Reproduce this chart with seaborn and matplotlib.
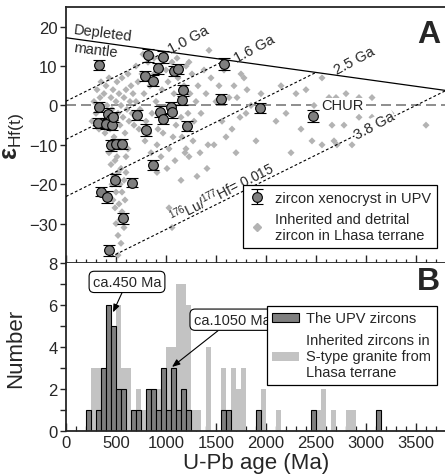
import numpy as np
import pandas as pd
import matplotlib
matplotlib.use("Agg")
import matplotlib.pyplot as plt
import seaborn as sns
from matplotlib.lines import Line2D
from matplotlib.patches import Patch
from matplotlib.ticker import MultipleLocator, FixedLocator

# ---------------- data ----------------
upv_age = [330, 815, 966, 917, 790, 866, 1083, 1116, 1166, 1160, 1050, 1063, 943, 973, 1206,
           706, 800, 333, 423, 450, 323, 403, 463, 470, 1583, 1553, 1943, 2473, 453, 503, 563,
           873, 493, 663, 353, 413, 573, 433]
upv_eps = [10.3, 12.7, 12.3, 9.4, 7.4, 6.3, 8.7, 9.2, 3.8, 1.5, -0.5, -1.6, -1.6, -3.4, -5.2,
           -2.4, -6.3, -0.4, -2.1, -3.4, -4.4, -4.7, -5.0, -3.0, 10.5, 1.7, -0.6, -2.7, -10.1, -9.8, -9.8,
           -15.2, -19.0, -19.6, -21.9, -23.2, -28.7, -36.8]
upv_err = [1.2, 1.6, 1.5, 1.4, 1.3, 1.4, 1.3, 1.3, 1.4, 1.5, 1.3, 1.6, 1.4, 1.3, 1.2,
           1.3, 1.5, 1.2, 1.4, 1.3, 1.2, 1.4, 1.3, 1.3, 1.6, 1.3, 1.3, 1.5, 1.4, 1.3, 1.3,
           1.3, 1.5, 1.2, 1.2, 1.6, 1.3, 1.4]

lhasa_age = [260, 280, 300, 310, 330, 340, 350, 360, 370, 380, 390, 400, 410, 420, 430, 440, 450, 460,
             470, 480, 490, 500, 510, 520, 530, 540, 550, 560, 570, 580, 590, 600, 610, 620, 630, 640,
             650, 660, 670, 680,
             430, 450, 470, 480, 490, 500, 510, 520, 530, 540, 550, 560, 470, 500, 520, 540, 560, 580,
             590, 600, 520, 580, 460, 600, 620, 490, 550,
             700, 720, 740, 760, 780, 800, 820, 840, 860, 880, 900, 920, 940, 960, 980, 1000, 1020,
             1040, 1060, 1080, 1100, 1120, 1140, 1160, 1180, 1200, 1220, 1240, 1260, 1280, 1300, 730,
             790, 850, 910, 970, 1030, 1090, 1150, 1210, 1270, 770, 880, 990, 1110, 1230, 700, 830,
             950, 1070, 1190,
             1030, 1060, 910, 1010, 1200, 1230, 1150,
             1320, 1350, 1380, 1400, 1410, 1420, 1430, 1450, 1480, 1500, 1530, 1560, 1580, 1610, 1630,
             1660, 1680, 1710, 1740, 1780, 1800, 1810, 1850, 1900, 1950, 1310, 1340, 1600, 1700, 1750,
             2100, 2150, 2250, 2300, 2350, 2460, 2480, 2560, 2560, 2630, 2660, 2680, 2700, 2710, 2780,
             2800, 2860, 2930, 2930, 3060, 3060, 3250, 3600, 2200, 2400]
lhasa_eps = [-4, 1, -2, 4, -6, 2, 6, -1, -4, 3, -7, 5, 0, -3, 7, -6, 2, -1,
             4, -8, -4, 1, 6, -2, 3, -5, 0, 7, -3, 2, -7, 4, -1, 8, -4, 1,
             5, -2, 3, -5,
             -12, -15, -11, -18, -14, -22, -13, -17, -25, -20, -16, -27, -24, -30, -33, -29, -22, -19,
             -24, -13, -38, -31, -20, -17, -11, -26, -35,
             10, 6, -1, 8, 3, -4, 11, 5, -2, 8, 1, -6, 12, 4, -3, 9, 6,
             -1, 11, 3, -5, 7, 1, -8, 5, 10, -2, 3, 8, -4, 1, -6,
             -9, -12, -10, -7, -11, -14, -3, -6, -9, 13, 12, 13, 12, 11, 1, -7,
             -13, -8, -12,
             -26, -31, -17, -16, -11, -13, -19,
             5, -2, 9, 3, -16, -10, 14, 7, -10, 1, 5, -4, 9, 10, 2,
             -6, 5, 2, -3, 7, -2, 4, 0, -9, 3, -18, -12, -8, -12, 8,
             -4, 5, -12, 3, -6, -9, 0, 7, -10, 2, -5, -9, 2, -10, -5,
             3, -10, 2, -3, 2, -3, -2, -5, -2, 4]

dm_age = [0, 3800]
dm_eps = [17.2, 3.8]
model_ages = [1000, 1600, 2500, 3800]
model_end = [0, 0, 0, 450]
model_labels = ["1.0 Ga", "1.6 Ga", "2.5 Ga", "3.8 Ga"]
crust_slope = 12.6  # epsilon units per Ga for 176Lu/177Hf = 0.015
eps_ticks = [-30, -20, -10, 0, 10, 20]

upv_bins = [200, 300, 350, 400, 450, 500, 550, 650, 700, 800, 850, 900, 950, 1000, 1050, 1100,
            1150, 1200, 1550, 1600, 1900, 2450, 3100]
upv_counts = [1, 1, 3, 6, 5, 2, 2, 1, 1, 2, 2, 1, 3, 1, 3, 1, 2, 1, 1, 1, 1, 1, 1]
lhasa_bins = [250, 300, 350, 400, 450, 500, 550, 600, 650, 700, 750, 800, 850, 900, 950, 1000,
              1050, 1100, 1150, 1200, 1250, 1300, 1400, 1550, 1650, 1700, 1750, 1950, 2100, 2500,
              2550, 2650, 2800, 2850]
lhasa_counts = [3, 3, 3, 3, 5, 6, 3, 3, 1, 2, 1, 2, 2, 2, 3, 4, 4, 7, 7, 6, 1, 1, 4, 3, 3, 2, 3,
                2, 1, 1, 2, 1, 1, 1]
bin_width = 50

# ---------------- style ----------------
sns.set_theme(style="ticks")
plt.rcParams["font.family"] = ["Liberation Sans", "DejaVu Sans"]
plt.rcParams["mathtext.fontset"] = "custom"
plt.rcParams["mathtext.rm"] = "Liberation Sans"
plt.rcParams["mathtext.it"] = "Liberation Sans:italic"
plt.rcParams["mathtext.bf"] = "Liberation Sans:bold"

W, H = 445, 477
fig = plt.figure(figsize=(W / 100, H / 100), dpi=100)
left = 66 / W
width = 380 / W
axA = fig.add_axes([left, 1 - 264 / H, width, 256 / H])
axB = fig.add_axes([left, 1 - 432 / H, width, 168 / H])

dark = "#7f7f7f"
light = "#c3c3c3"
diam = "#b3b3b3"

# ---------------- panel A ----------------
ax = axA
ax.set_xlim(0, 3800)
ax.set_ylim(-40, 25)

sns.scatterplot(x=lhasa_age, y=lhasa_eps, marker="D", s=13, color=diam, edgecolor="none",
                ax=ax, zorder=2, legend=False)

# CHUR
ax.axhline(0, color="#7a7a7a", lw=1.2, dashes=(6, 3), zorder=1)
ax.text(2760, 0, "CHUR", ha="center", va="center", fontsize=10.5,
        bbox=dict(fc="white", ec="none", pad=0.5), zorder=3)

# depleted mantle
sns.lineplot(x=dm_age, y=dm_eps, color="black", lw=0.9, ax=ax, zorder=3)
dm_slope = (dm_eps[1] - dm_eps[0]) / (dm_age[1] - dm_age[0])
for T, t_end in zip(model_ages, model_end):
    e_T = dm_eps[0] + dm_slope * T
    e_end = e_T - crust_slope * (T - t_end) / 1000
    ax.plot([t_end, T], [e_end, e_T], color="black", lw=0.8, ls=(0, (2.5, 2)), zorder=3)

ax.text(1230, 16.8, "1.0 Ga", rotation=28, ha="center", va="center", fontsize=10.5, zorder=4)
ax.text(1880, 14.6, "1.6 Ga", rotation=28, ha="center", va="center", fontsize=10.5, zorder=4)
ax.text(2880, 11.6, "2.5 Ga", rotation=28, ha="center", va="center", fontsize=10.5, zorder=4)
ax.text(3080, -5.0, "3.8 Ga", rotation=28, ha="center", va="center", fontsize=10.5,
        bbox=dict(fc="white", ec="none", pad=0.3), zorder=4)
ax.text(1560, -21.8, "$^{176}$Lu/$^{177}$Hf= 0.015", rotation=27, ha="center", va="center",
        fontsize=10, zorder=4)
ax.text(70, 18.6, "Depleted", rotation=-7, ha="left", va="center", fontsize=10.5, zorder=4)
ax.text(70, 14.2, "mantle", rotation=-7, ha="left", va="center", fontsize=10.5, zorder=4)

eb = ax.errorbar(upv_age, upv_eps, yerr=upv_err, fmt="o", ms=7, mfc=dark, mec="black", mew=0.8,
                 ecolor="black", elinewidth=0.9, capsize=4, capthick=0.9, zorder=5)

ax.text(0.985, 0.955, "A", transform=ax.transAxes, ha="right", va="top", fontsize=23,
        fontweight="bold")

ax.yaxis.set_major_locator(FixedLocator(eps_ticks))
ax.xaxis.set_major_locator(MultipleLocator(500))
ax.xaxis.set_minor_locator(MultipleLocator(100))
ax.tick_params(axis="x", which="major", direction="inout", length=11, width=1, labelbottom=False)
ax.tick_params(axis="x", which="minor", direction="inout", length=6, width=0.9)
ax.tick_params(axis="y", which="major", direction="out", length=4, width=1, labelsize=12, pad=2)
for s in ["left", "bottom", "top"]:
    ax.spines[s].set_linewidth(1.3)
ax.spines["right"].set_visible(False)
ax.set_ylabel("ε$_{\\mathrm{Hf(t)}}$", fontsize=18, fontweight="bold", labelpad=2)

diam_handle = Line2D([], [], marker="D", ls="none", color=diam, ms=4)
legA = ax.legend([eb, diam_handle],
                 ["zircon xenocryst in UPV", "Inherited and detrital\nzircon in Lhasa terrane"],
                 loc="lower right", bbox_to_anchor=(0.995, 0.03), fontsize=10.5, frameon=True,
                 fancybox=False, edgecolor="black", framealpha=1, handlelength=1.2,
                 handletextpad=0.6, borderpad=0.4, labelspacing=0.5)
legA.get_frame().set_linewidth(0.9)

# ---------------- panel B ----------------
ax = axB
edges = [float(e) for e in np.arange(0, 3800 + bin_width, bin_width)]
lh_ages = np.repeat(np.array(lhasa_bins) + bin_width / 2, lhasa_counts)
up_ages = np.repeat(np.array(upv_bins) + bin_width / 2, upv_counts)
sns.histplot(x=lh_ages, bins=edges, color=light, alpha=1, edgecolor="none",
             linewidth=0, ax=ax, zorder=1)
sns.histplot(x=up_ages, bins=edges, color=dark, alpha=1, edgecolor="black",
             linewidth=0.8, ax=ax, zorder=2)
ax.set_xlim(0, 3800)
ax.set_ylim(0, 8)

ax.annotate("ca.450 Ma", xy=(470, 5.65), xytext=(610, 7.1), ha="center", va="center",
            fontsize=10.5,
            bbox=dict(boxstyle="round,pad=0.25,rounding_size=0.35", fc="white", ec="black", lw=0.8),
            arrowprops=dict(arrowstyle="-|>,head_length=0.45,head_width=0.18", color="black",
                            lw=0.8, shrinkA=0, shrinkB=0))
ax.annotate("ca.1050 Ma", xy=(1060, 3.05), xytext=(1660, 5.3), ha="center", va="center",
            fontsize=10.5,
            bbox=dict(boxstyle="round,pad=0.25,rounding_size=0.35", fc="white", ec="black", lw=0.8),
            arrowprops=dict(arrowstyle="-|>,head_length=0.45,head_width=0.18", color="black",
                            lw=0.8, shrinkA=0, shrinkB=0))

ax.text(0.985, 0.985, "B", transform=ax.transAxes, ha="right", va="top", fontsize=23,
        fontweight="bold")

ax.xaxis.set_major_locator(MultipleLocator(500))
ax.xaxis.set_minor_locator(MultipleLocator(100))
ax.yaxis.set_major_locator(MultipleLocator(2))
ax.yaxis.set_minor_locator(MultipleLocator(1))
ax.tick_params(axis="x", which="major", direction="in", length=6, width=1, labelsize=12, pad=3)
ax.tick_params(axis="x", which="minor", direction="in", length=3.5, width=0.9)
ax.tick_params(axis="y", which="both", direction="out", length=4, width=1, labelsize=12, pad=2)
for s in ["left", "bottom"]:
    ax.spines[s].set_linewidth(1.3)
ax.spines["right"].set_visible(False)
ax.spines["top"].set_visible(False)
ax.set_xlabel("U-Pb age (Ma)", fontsize=16, labelpad=1)
ax.set_ylabel("Number", fontsize=16, labelpad=6)

legB = ax.legend([Patch(fc=dark, ec="black", lw=0.8), Patch(fc=light, ec="none")],
                 ["The UPV zircons", "Inherited zircons in\nS-type granite from\nLhasa terrane"],
                 loc="upper right", bbox_to_anchor=(0.995, 0.79), fontsize=10.5, frameon=True,
                 fancybox=False, edgecolor="black", framealpha=1, handlelength=1.8,
                 handleheight=0.6, handletextpad=0.5, borderpad=0.4, labelspacing=0.5)
legB.get_frame().set_linewidth(0.9)

axA.yaxis.set_label_coords(-0.105, 0.5)
axB.yaxis.set_label_coords(-0.105, 0.5)

fig.savefig("out.png", dpi=100)
